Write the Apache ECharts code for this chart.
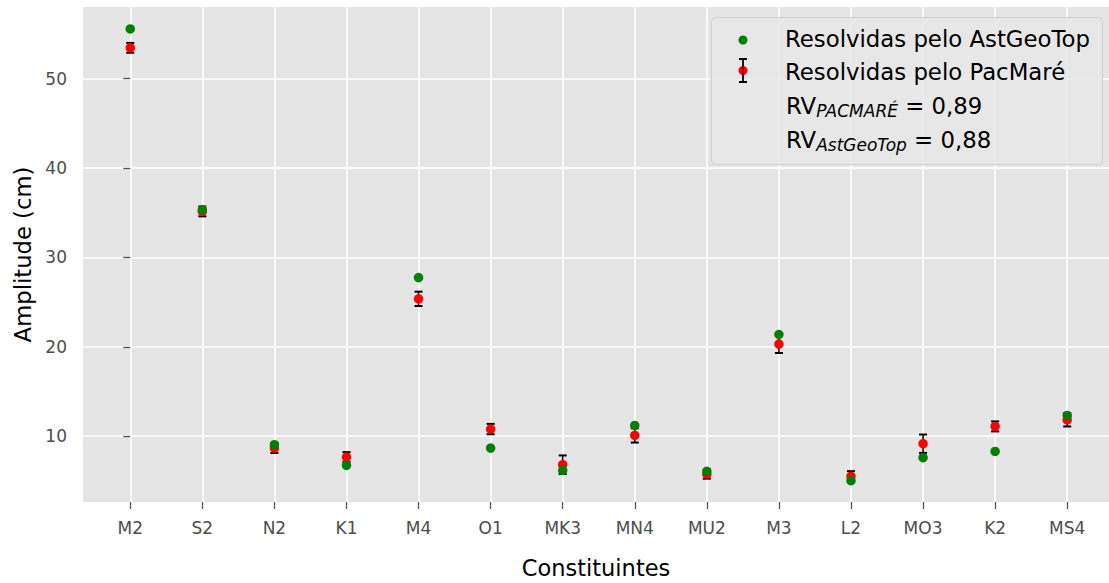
<!DOCTYPE html>
<html>
<head>
<meta charset="utf-8">
<script src="https://cdn.jsdelivr.net/npm/echarts@6/dist/echarts.min.js"></script>
<style>
html,body{margin:0;padding:0;background:#fff;}
#chart{width:1109px;height:583px;}
</style>
</head>
<body>
<div id="chart"></div>
<script>
const categories = ['M2','S2','N2','K1','M4','O1','MK3','MN4','MU2','M3','L2','MO3','K2','MS4'];
const astGeoTop = [55.56, 35.35, 9.05, 6.74, 27.75, 8.68, 6.18, 11.21, 6.07, 21.38, 5.03, 7.60, 8.30, 12.33];
const pacMare = [53.45, 35.15, 8.68, 7.67, 25.37, 10.80, 6.81, 10.09, 5.77, 20.31, 5.51, 9.16, 11.10, 11.84];
const pacMareErr = [0.55, 0.55, 0.55, 0.55, 0.80, 0.58, 1.04, 0.80, 0.52, 1.00, 0.58, 1.03, 0.56, 0.75];
const yTicks = [10, 20, 30, 40, 50];
const legendLabels = ['Resolvidas pelo AstGeoTop', 'Resolvidas pelo PacMaré'];
const rvLines = [['RV', 'PACMARÉ', ' = 0,89'], ['RV', 'AstGeoTop', ' = 0,88']];

const FONT = '"DejaVu Sans", "Liberation Sans", sans-serif';
const xIdx = categories.map((c, i) => i);

const chart = echarts.init(document.getElementById('chart'), null, {renderer: 'svg'});

const mctx = document.createElement('canvas').getContext('2d');
function tw(text, size, italic) {
  mctx.font = (italic ? 'italic ' : '') + size + 'px "DejaVu Sans"';
  return mctx.measureText(text).width;
}

const LEG_FS = 22.8, SUB_FS = 17;
const legendGraphics = [];
const LX = 711, LY = 17;
legendGraphics.push({type: 'rect', shape: {x: LX + 0.5, y: LY + 0.5, width: 391, height: 147, r: 4},
  style: {fill: 'rgba(232,232,232,0.85)', stroke: '#cfcfcf', lineWidth: 1}, z: 100});
legendGraphics.push({type: 'circle', shape: {cx: 743, cy: 40, r: 4.5}, style: {fill: '#008000'}, z: 101});
legendGraphics.push({type: 'line', shape: {x1: 743, y1: 59, x2: 743, y2: 82}, style: {stroke: '#000', lineWidth: 1.5}, z: 101});
legendGraphics.push({type: 'line', shape: {x1: 739, y1: 59, x2: 747, y2: 59}, style: {stroke: '#000', lineWidth: 2}, z: 101});
legendGraphics.push({type: 'line', shape: {x1: 739, y1: 82, x2: 747, y2: 82}, style: {stroke: '#000', lineWidth: 2}, z: 101});
legendGraphics.push({type: 'circle', shape: {cx: 743, cy: 70.5, r: 4.5}, style: {fill: '#ff0000'}, z: 102});
legendGraphics.push({type: 'line', shape: {x1: 743, y1: 59, x2: 743, y2: 82}, style: {stroke: '#000', lineWidth: 1}, z: 103});
legendLabels.forEach((t, i) => {
  legendGraphics.push({type: 'text', x: 785, y: 39 + i * 33, z: 101,
    style: {text: t, font: LEG_FS + 'px ' + FONT, fill: '#000', textVerticalAlign: 'middle', textAlign: 'left'}});
});
rvLines.forEach((parts, i) => {
  const y = 106 + i * 34;
  let x = 786;
  legendGraphics.push({type: 'text', x: x, y: y, z: 101,
    style: {text: parts[0], font: LEG_FS + 'px ' + FONT, fill: '#000', textVerticalAlign: 'middle'}});
  x += tw(parts[0], LEG_FS, false);
  legendGraphics.push({type: 'text', x: x, y: y + 5, z: 101,
    style: {text: parts[1], font: 'italic ' + SUB_FS + 'px ' + FONT, fill: '#000', textVerticalAlign: 'middle'}});
  x += tw(parts[1], SUB_FS, true);
  legendGraphics.push({type: 'text', x: x, y: y, z: 101,
    style: {text: parts[2], font: LEG_FS + 'px ' + FONT, fill: '#000', textVerticalAlign: 'middle'}});
});

const option = {
  backgroundColor: '#ffffff',
  animation: false,
  grid: {left: 83, right: 0, top: 7, bottom: 81, show: true, backgroundColor: '#e5e5e5', borderWidth: 0,
    containLabel: false, outerBoundsMode: 'none'},
  xAxis: {
    type: 'value', min: -0.656, max: 13.58,
    name: 'Constituintes', nameLocation: 'middle', nameGap: 54,
    nameTextStyle: {fontFamily: FONT, fontSize: 22.5, color: '#000', lineHeight: 24},
    axisLine: {show: false},
    axisTick: {show: true, length: 7, lineStyle: {color: '#555', width: 1.3}, customValues: xIdx},
    axisLabel: {customValues: xIdx, margin: 17, fontFamily: FONT, fontSize: 17, color: '#4d4d4d',
      formatter: v => categories[Math.round(v)] || ''},
    splitLine: {show: true, lineStyle: {color: '#ffffff', width: 1.5}}
  },
  yAxis: {
    type: 'value', min: 2.64, max: 58.02,
    name: 'Amplitude (cm)', nameLocation: 'middle', nameGap: 49, nameRotate: 90,
    nameTextStyle: {fontFamily: FONT, fontSize: 22.7, color: '#000'},
    axisLine: {show: false},
    axisTick: {show: true, length: 7, lineStyle: {color: '#555', width: 1.3}, customValues: yTicks},
    axisLabel: {customValues: yTicks, margin: 16, fontFamily: FONT, fontSize: 17, color: '#4d4d4d'},
    splitLine: {show: true, lineStyle: {color: '#ffffff', width: 1.5}}
  },
  series: [
    {
      type: 'custom', name: 'err', z: 2,
      data: pacMare.map((v, i) => [i, v - pacMareErr[i], v + pacMareErr[i]]),
      renderItem: function (params, api) {
        const x = api.value(0);
        const lo = api.coord([x, api.value(1)]);
        const hi = api.coord([x, api.value(2)]);
        const hw = 4;
        return {type: 'group', children: [
          {type: 'line', shape: {x1: lo[0], y1: lo[1], x2: hi[0], y2: hi[1]}, style: {stroke: '#000', lineWidth: 1.5}},
          {type: 'line', shape: {x1: lo[0] - hw, y1: lo[1], x2: lo[0] + hw, y2: lo[1]}, style: {stroke: '#000', lineWidth: 2}},
          {type: 'line', shape: {x1: hi[0] - hw, y1: hi[1], x2: hi[0] + hw, y2: hi[1]}, style: {stroke: '#000', lineWidth: 2}}
        ]};
      }
    },
    {
      type: 'scatter', name: legendLabels[1], z: 3, symbolSize: 9.5,
      itemStyle: {color: '#ff0000', opacity: 1},
      data: pacMare.map((v, i) => [i, v])
    },
    {
      type: 'scatter', name: legendLabels[0], z: 4, symbolSize: 9.5,
      itemStyle: {color: '#008000', opacity: 1},
      data: astGeoTop.map((v, i) => [i, v])
    }
  ],
  graphic: legendGraphics
};
chart.setOption(option);
</script>
</body>
</html>
